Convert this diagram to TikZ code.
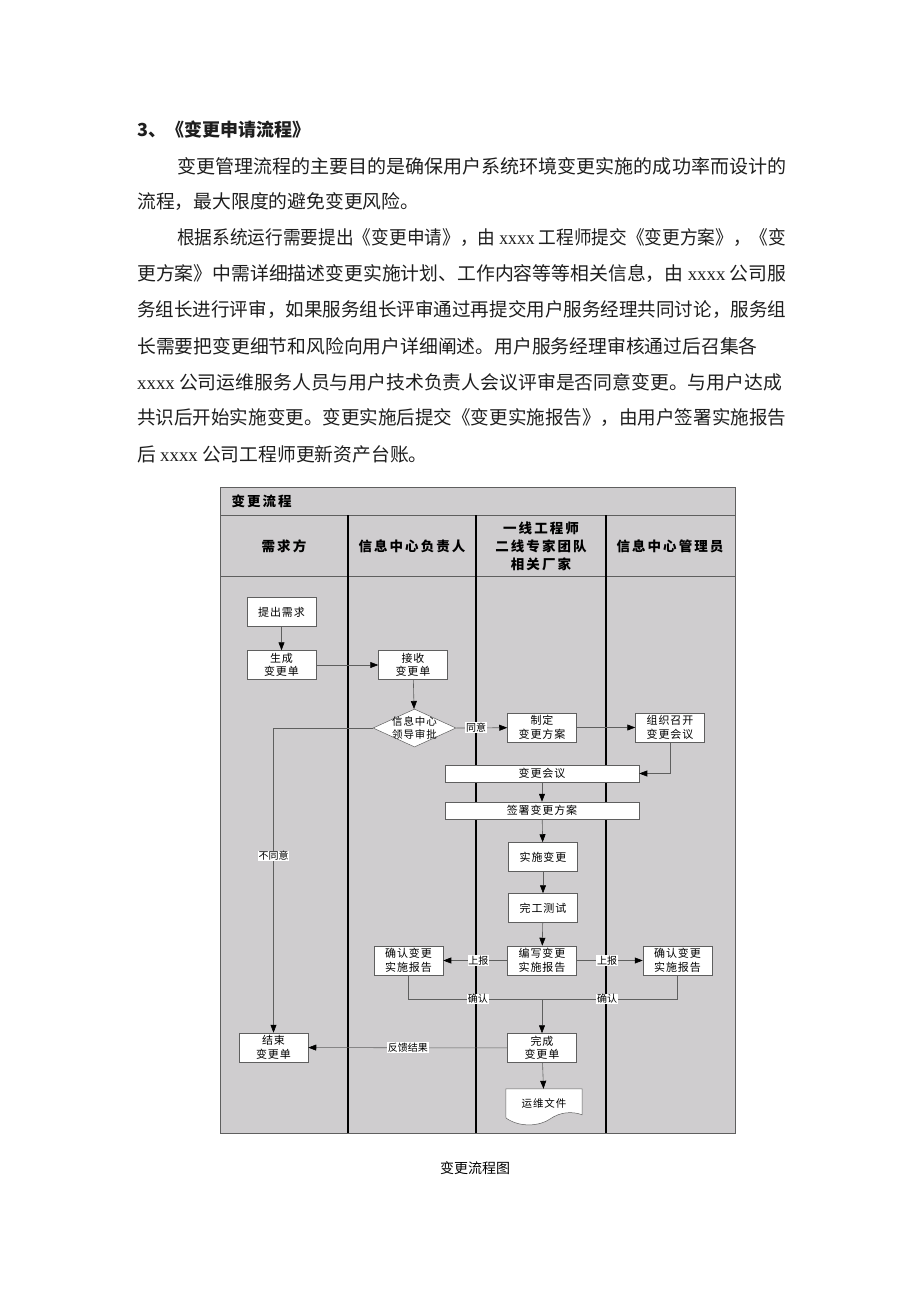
\documentclass[tikz,border=0pt]{standalone}
\usepackage{fontspec}
\usepackage{graphicx}
\newfontfamily\cjk{Noto Sans CJK SC}
\newfontfamily\cjkwide[LetterSpace=15]{Noto Sans CJK SC}
\newfontfamily\cjkbox[LetterSpace=8]{Noto Sans CJK SC}
\newfontfamily\latin{Liberation Serif}
\usetikzlibrary{arrows.meta,shapes.geometric}
\definecolor{lanebg}{RGB}{207,205,207}
\definecolor{linegray}{RGB}{95,95,95}
\definecolor{textgray}{RGB}{30,30,30}

% set a line to a given width
\newsavebox\linebox
\newcommand\fitline[2]{\sbox\linebox{#2}%
  \pgfmathsetmacro\linesx{#1/\the\wd\linebox}%
  \scalebox{\linesx}[1]{\usebox\linebox}}

\tikzset{
  bodytext/.style={anchor=west,inner sep=0pt,text=textgray,font=\cjk\fontsize{18.8}{24}\selectfont},
  head/.style={align=center,font=\cjkwide\bfseries\fontsize{13.5}{18}\selectfont},
  box/.style={draw=linegray,fill=white,line width=0.5pt,minimum width=69pt,minimum height=29pt,
    inner sep=1pt,align=center,font=\cjkbox\fontsize{11}{13.5}\selectfont},
  widebox/.style={box,minimum width=194pt,minimum height=17pt},
  decision/.style={diamond,draw=linegray,fill=white,line width=0.5pt,inner sep=0pt,
    minimum width=83pt,minimum height=38pt},
  lbl/.style={fill=white,inner sep=0.8pt,font=\cjk\fontsize{10}{12}\selectfont},
  conn/.style={draw=linegray,line width=0.6pt},
  arr/.style={conn,-{Triangle[length=8pt,width=6pt,color=black]}}
}

\begin{document}
\begin{tikzpicture}[x=1pt,y=-1pt]
  \useasboundingbox (0,0) rectangle (920,1302);
  \fill[white] (0,0) rectangle (920,1302);

  % text above the chart
  \node[bodytext,font=\cjk\bfseries\fontsize{18}{24}\selectfont] (title) at (137,130) {3、《变更申请流程》};
  % justified lines
  \foreach \i/\x/\w/\t in {
      1/177/609/变更管理流程的主要目的是确保用户系统环境变更实施的成功率而设计的,
      3/177/609/根据系统运行需要提出《变更申请》，由 {\latin xxxx} 工程师提交《变更方案》，《变,
      4/137/649/更方案》中需详细描述变更实施计划、工作内容等等相关信息，由 {\latin xxxx} 公司服,
      5/137/649/务组长进行评审，如果服务组长评审通过再提交用户服务经理共同讨论，服务组,
      7/137/645/{\latin xxxx} 公司运维服务人员与用户技术负责人会议评审是否同意变更。与用户达成,
      8/137/649/共识后开始实施变更。变更实施后提交《变更实施报告》，由用户签署实施报告}
    \node[bodytext] (line\i) at (\x,{166+36*(\i-1)}) {\fitline{\w}{\t}};
  % short lines
  \foreach \i/\t in {
      2/流程，最大限度的避免变更风险。,
      6/长需要把变更细节和风险向用户详细阐述。用户服务经理审核通过后召集各,
      9/后 {\latin xxxx} 公司工程师更新资产台账。}
    \node[bodytext] (line\i) at (137,{166+36*(\i-1)}) {\t};

  % swimlane frame
  \fill[lanebg] (220,487) rectangle (735,1133);
  \draw[linegray,line width=0.8pt] (220,515) -- (735,515);
  \draw[linegray,line width=0.8pt] (220,576) -- (735,576);
  \foreach \x in {348,476,606}
    \draw[black,line width=1.2pt] (\x,515) -- (\x,1133);
  \draw[linegray,line width=1pt] (220,487) rectangle (735,1133);

  \node[anchor=west,font=\cjkwide\bfseries\fontsize{13.5}{18}\selectfont] (lanes) at (228,501) {变更流程};
  \node[head] (h1) at (284,546) {需求方};
  \node[head] (h2) at (412,546) {信息中心负责人};
  \node[head] (h3) at (541,546) {一线工程师\\二线专家团队\\相关厂家};
  \node[head] (h4) at (670,546) {信息中心管理员};

  % steps
  \node[box] (tcxq) at (281.5,612) {提出需求};
  \node[box] (scbgd) at (281.5,665) {生成\\变更单};
  \node[box] (jsbgd) at (413,665) {接收\\变更单};
  \node[decision,label={[align=center,font=\cjkbox\fontsize{10.5}{13.5}\selectfont]center:信息中心\\领导审批}] (ldsp) at (414.5,728) {};
  \node[box] (zdfa) at (542,727.5) {制定\\变更方案};
  \node[box] (zzhy) at (670,727.5) {组织召开\\变更会议};
  \node[widebox] (bghy) at (542,773.5) {变更会议};
  \node[widebox] (qsfa) at (542,810.5) {签署变更方案};
  \node[box] (ssbg) at (543,857) {实施变更};
  \node[box] (wgcs) at (543,908) {完工测试};
  \node[box] (bxbg) at (542,960.5) {编写变更\\实施报告};
  \node[box] (qrl) at (408.5,960.5) {确认变更\\实施报告};
  \node[box] (qrr) at (677.5,960.5) {确认变更\\实施报告};
  \node[box] (wcbgd) at (542,1048) {完成\\变更单};
  \node[box] (jsd) at (273.5,1047.5) {结束\\变更单};
  \node[font=\cjkbox\fontsize{10.5}{13}\selectfont,minimum width=76pt,minimum height=28pt,inner sep=0pt] (ywwj) at (544,1103) {运维文件};
  \draw[linegray,fill=white,line width=0.5pt] (ywwj.north west) -- (ywwj.north east) -- ++(0,26)
    .. controls (572,1111) and (560,1112) .. (550,1119)
    .. controls (540,1126) and (520,1128) .. (506,1118) -- cycle;
  \node[font=\cjkbox\fontsize{10.5}{13}\selectfont] (ywwjt) at (ywwj.center) {运维文件};

  % connectors
  \draw[arr] (tcxq) -- (scbgd);
  \draw[arr] (scbgd) -- (jsbgd);
  \draw[arr] (jsbgd) -- (ldsp);
  \draw[arr] (ldsp.east) -- node[lbl,pos=0.39]{同意} (zdfa);
  \draw[arr] (ldsp.west) -| node[lbl,pos=0.71]{不同意} (jsd);
  \draw[arr] (zdfa) -- (zzhy);
  \draw[arr] (zzhy.south) |- (bghy.east);
  \draw[arr] (bghy) -- (qsfa);
  \draw[arr] (qsfa) -- (ssbg);
  \draw[arr] (ssbg) -- (wgcs);
  \draw[arr] (wgcs) -- (bxbg);
  \draw[arr] (bxbg) -- node[lbl,pos=0.45]{上报} (qrl);
  \draw[arr] (bxbg) -- node[lbl,pos=0.46]{上报} (qrr);
  \coordinate (hz) at (542,999);
  \draw[conn] (qrl.south) |- node[lbl,pos=0.76]{确认} (hz);
  \draw[conn] (qrr.south) |- node[lbl,pos=0.76]{确认} (hz);
  \draw[arr] (hz) -- (wcbgd);
  \draw[arr] (wcbgd) -- node[lbl]{反馈结果} (jsd);
  \draw[arr] (wcbgd) -- (ywwj);

  \node[font=\cjk\fontsize{14}{16}\selectfont] (caption) at (475,1168) {变更流程图};
\end{tikzpicture}
\end{document}
